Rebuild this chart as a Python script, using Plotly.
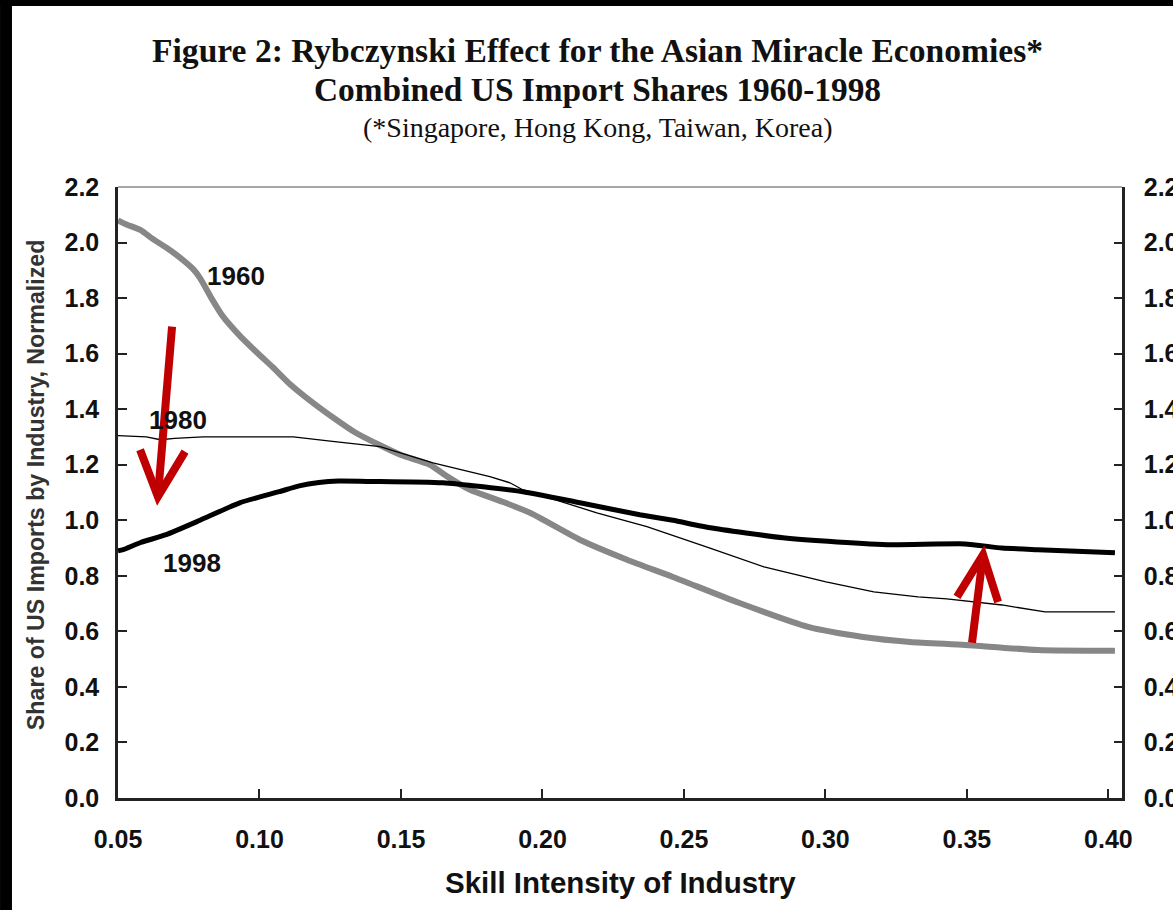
import plotly.graph_objects as go

# ---- data ----
x_1960 = [0.050, 0.053, 0.058, 0.062, 0.067, 0.072, 0.0765, 0.079, 0.083, 0.087, 0.093, 0.099,
          0.1048, 0.1108, 0.118, 0.126, 0.134, 0.1426, 0.150, 0.1602, 0.166, 0.1744, 0.185,
          0.1956, 0.2132, 0.2299, 0.2461, 0.2694, 0.2939, 0.3133, 0.3299, 0.3493, 0.3751, 0.4023]
y_1960 = [2.08, 2.065, 2.045, 2.015, 1.982, 1.945, 1.905, 1.872, 1.80, 1.735, 1.665, 1.605,
          1.55, 1.49, 1.43, 1.37, 1.315, 1.27, 1.235, 1.20, 1.16, 1.11, 1.07,
          1.027, 0.93, 0.858, 0.796, 0.703, 0.616, 0.58, 0.562, 0.551, 0.533, 0.53]

x_1980 = [0.050, 0.060, 0.065, 0.070, 0.080, 0.090, 0.100, 0.112, 0.125, 0.1426, 0.1613,
          0.1814, 0.1885, 0.193, 0.2192, 0.2369, 0.2592, 0.2783, 0.3002, 0.3171, 0.3327,
          0.3429, 0.3624, 0.3776, 0.4023]
y_1980 = [1.305, 1.30, 1.29, 1.295, 1.30, 1.30, 1.30, 1.30, 1.285, 1.265, 1.207,
          1.157, 1.135, 1.11, 1.027, 0.977, 0.90, 0.832, 0.778, 0.742, 0.724,
          0.717, 0.695, 0.67, 0.67]

x_1998 = [0.050, 0.0518, 0.058, 0.067, 0.079, 0.093, 0.107, 0.114, 0.121, 0.128, 0.138,
          0.1426, 0.1648, 0.1931, 0.2132, 0.2344, 0.2461, 0.2592, 0.285, 0.3041, 0.3235,
          0.3493, 0.3624, 0.3751, 0.4023]
y_1998 = [0.89, 0.894, 0.92, 0.948, 1.0, 1.063, 1.103, 1.124, 1.136, 1.141, 1.14,
          1.14, 1.135, 1.103, 1.063, 1.02, 1.0, 0.973, 0.937, 0.922, 0.912,
          0.915, 0.90, 0.894, 0.883]

x_ticks = [0.05, 0.10, 0.15, 0.20, 0.25, 0.30, 0.35, 0.40]
y_ticks = [0.0, 0.2, 0.4, 0.6, 0.8, 1.0, 1.2, 1.4, 1.6, 1.8, 2.0, 2.2]

series_labels = ["1960", "1980", "1998"]
label_pos = [(0.0917, 1.881), (0.0712, 1.362), (0.0761, 0.847)]

# arrows: (tail, tip, wing1, wing2) in data units
arrow_down = [(0.0691, 1.697), (0.0641, 1.085), (0.0578, 1.254), (0.0737, 1.247)]
arrow_up = [(0.3518, 0.559), (0.3557, 0.876), (0.3465, 0.724), (0.3610, 0.706)]

title_lines = ["Figure 2: Rybczynski Effect for the Asian Miracle Economies*",
               "Combined US Import Shares 1960-1998",
               "(*Singapore, Hong Kong, Taiwan, Korea)"]

SANS = "Liberation Sans, Arial, sans-serif"
SERIF = "Liberation Serif, Times New Roman, serif"
RED = "#C00000"

fig = go.Figure()
fig.add_trace(go.Scatter(x=x_1960, y=y_1960, mode="lines",
                         line=dict(color="#878787", width=6, shape="spline", smoothing=0.6),
                         showlegend=False))
fig.add_trace(go.Scatter(x=x_1980, y=y_1980, mode="lines",
                         line=dict(color="#000000", width=1.3), showlegend=False))
fig.add_trace(go.Scatter(x=x_1998, y=y_1998, mode="lines",
                         line=dict(color="#000000", width=5, shape="spline", smoothing=0.5),
                         showlegend=False))
# invisible trace to activate right axis
fig.add_trace(go.Scatter(x=x_1998, y=y_1998, mode="lines", yaxis="y2",
                         line=dict(width=0), opacity=0, showlegend=False, hoverinfo="skip"))

shapes = []
for arr in (arrow_down, arrow_up):
    tail, tip, w1, w2 = arr
    shapes.append(dict(type="line", xref="x", yref="y", x0=tail[0], y0=tail[1],
                       x1=tip[0], y1=tip[1], line=dict(color=RED, width=8)))
    shapes.append(dict(type="path", xref="x", yref="y",
                       path=f"M {w1[0]},{w1[1]} L {tip[0]},{tip[1]} L {w2[0]},{w2[1]}",
                       line=dict(color=RED, width=8)))
# top border line (gray)
shapes.append(dict(type="line", xref="paper", yref="paper", x0=0, x1=1, y0=1, y1=1,
                   line=dict(color="#8a8a8a", width=1.5)))
# black borders of the screenshot
shapes.append(dict(type="rect", xref="paper", yref="paper", x0=-0.1175, x1=-0.1056,
                   y0=-0.1833, y1=1.306, fillcolor="black", line=dict(width=0), layer="above"))
shapes.append(dict(type="rect", xref="paper", yref="paper", x0=-0.1175, x1=1.0508,
                   y0=1.2962, y1=1.306, fillcolor="black", line=dict(width=0), layer="above"))

annotations = []
for lab, (lx, ly) in zip(series_labels, label_pos):
    annotations.append(dict(x=lx, y=ly, xref="x", yref="y", text=f"<b>{lab}</b>",
                            showarrow=False, xanchor="center", yanchor="middle",
                            font=dict(family=SANS, size=26, color="#111111")))
title_y = [1.224, 1.159, 1.0966]
title_sizes = [33.6, 33.4, 28]
for i, (t, ty, ts) in enumerate(zip(title_lines, title_y, title_sizes)):
    txt = f"<b>{t}</b>" if i < 2 else t
    annotations.append(dict(x=0.478, y=ty, xref="paper", yref="paper", text=txt,
                            showarrow=False, xanchor="center", yanchor="middle",
                            font=dict(family=SERIF, size=ts, color="#111111")))
annotations.append(dict(x=-0.0817, y=0.512, xref="paper", yref="paper",
                        text="<b>Share of US Imports by Industry, Normalized</b>", textangle=-90,
                        showarrow=False, xanchor="center", yanchor="middle",
                        font=dict(family=SANS, size=23.2, color="#333333")))
annotations.append(dict(x=0.5, y=-0.139, xref="paper", yref="paper",
                        text="<b>Skill Intensity of Industry</b>",
                        showarrow=False, xanchor="center", yanchor="middle",
                        font=dict(family=SANS, size=29.5, color="#111111")))

tickfont = dict(family=SANS, size=25, color="#111111")
fig.update_layout(
    width=1173, height=910,
    margin=dict(l=118, r=51, t=187, b=112, autoexpand=False),
    paper_bgcolor="white", plot_bgcolor="white",
    xaxis=dict(range=[0.05, 0.4048], tickvals=x_ticks, automargin=False,
               ticktext=[f"<b>{v:.2f}</b>" for v in x_ticks],
               ticks="inside", ticklen=9, tickwidth=2, tickcolor="#222222",
               showline=True, linecolor="#222222", linewidth=2.5,
               showgrid=False, zeroline=False, tickfont=tickfont, ticklabelstandoff=17),
    yaxis=dict(range=[0, 2.2], tickvals=y_ticks, automargin=False,
               ticktext=[f"<b>{v:.1f}</b>" for v in y_ticks],
               ticks="inside", ticklen=9, tickwidth=2, tickcolor="#222222",
               showline=True, linecolor="#222222", linewidth=2.5,
               showgrid=False, zeroline=False, tickfont=tickfont, ticklabelstandoff=11),
    yaxis2=dict(range=[0, 2.2], tickvals=y_ticks, overlaying="y", side="right",
                automargin=False,
                ticktext=[f"<b>{v:.1f}</b>" for v in y_ticks],
                ticks="inside", ticklen=8, tickwidth=2, tickcolor="#222222",
                showline=True, linecolor="#222222", linewidth=2.5,
                showgrid=False, zeroline=False, tickfont=tickfont, ticklabelstandoff=14),
    shapes=shapes, annotations=annotations,
)

fig.write_html("out.html", config={"displayModeBar": False},
               post_script="document.body.style.margin='0';document.body.style.overflow='hidden';")
